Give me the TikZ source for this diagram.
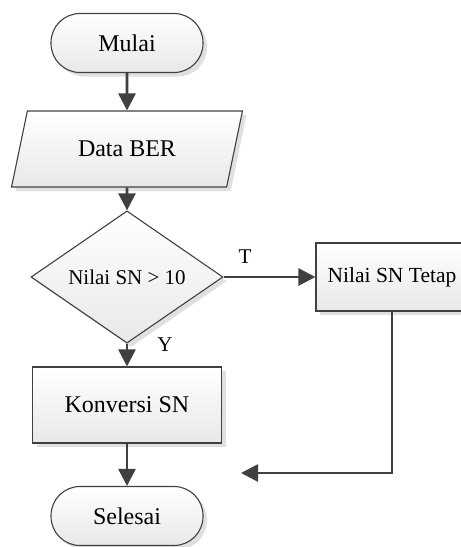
\documentclass[tikz,border=0pt]{standalone}
\usepackage{fontspec}
\setmainfont{Liberation Serif}
\usetikzlibrary{shapes.geometric,shadows,arrows.meta}
\definecolor{edge}{HTML}{404040}
\begin{document}
\begin{tikzpicture}[x=1pt,y=-1pt,
 base/.style={draw=edge, line width=1.1pt, top color=white, bottom color=black!9,
   general shadow={shadow xshift=4pt, shadow yshift=-4pt, fill=black!12},
   text=black, inner sep=0pt, font=\fontsize{24}{28}\selectfont},
 term/.style={base, rectangle, rounded corners=29pt, minimum width=152pt, minimum height=59pt},
 io/.style={base, trapezium, trapezium left angle=64, trapezium right angle=116,
   trapezium stretches=true, minimum width=231pt, minimum height=76pt},
 proc/.style={base, rectangle, minimum width=189pt, minimum height=76pt},
 dec/.style={base, diamond, minimum width=192pt, minimum height=111pt, font=\fontsize{21}{25}\selectfont},
 conn/.style={draw=edge, line width=2.7pt, -{Triangle[length=17pt,width=17pt]}},
 lbl/.style={font=\fontsize{21}{25}\selectfont, text=black}]
\clip (0,0) rectangle (461,547);
\node[term] (mulai) at (127,43) {Mulai};
\node[io] (data) at (127,149) {Data BER};
\node[dec] (cek) at (127,277) {Nilai SN > 10};
\node[proc, minimum width=152pt, minimum height=68pt, font=\fontsize{21.5}{26}\selectfont] (tetap) at (392,277) {Nilai SN Tetap};
\node[proc] (konv) at (127,405) {Konversi SN};
\node[term] (selesai) at (127,516) {Selesai};
\coordinate (join) at (241,473);
\node[lbl] (t) at (245,257) {T};
\node[lbl] (y) at (165,345) {Y};
\draw[conn] (mulai.south) -- (data.north);
\draw[conn] (data.south) -- (cek.north);
\draw[conn] (cek.east) -- (tetap.west);
\draw[conn] (cek.south) -- (konv.north);
\draw[conn] (konv.south) -- (selesai.north);
\draw[conn] (tetap.south) |- (join);
\end{tikzpicture}
\end{document}
